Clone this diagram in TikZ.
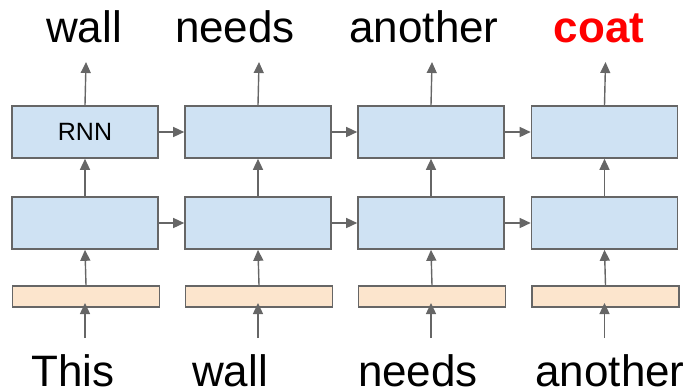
\documentclass[tikz,border=0pt]{standalone}
\usepackage{fontspec}
\setmainfont{Liberation Sans}
\usetikzlibrary{arrows.meta,calc}
\definecolor{boxblue}{HTML}{CFE2F3}
\definecolor{barpeach}{HTML}{FCE5CD}
\definecolor{edgegray}{HTML}{666666}
\definecolor{wordred}{HTML}{FF0000}
\begin{document}
\begin{tikzpicture}[x=1pt,y=-1pt,
  rnnbox/.style={draw=edgegray,fill=boxblue,line width=1.6pt,minimum width=146pt,minimum height=52pt,inner sep=0pt,anchor=center},
  embbar/.style={draw=edgegray,fill=barpeach,line width=1.6pt,minimum width=147pt,minimum height=21pt,inner sep=0pt,anchor=center},
  conn/.style={draw=edgegray,line width=1.4pt,-{Triangle[length=11pt,width=10pt]}},
  word/.style={font=\fontsize{44}{44}\selectfont,anchor=base,inner sep=0pt,text depth=0pt},
  redword/.style={word,font=\fontsize{44}{44}\selectfont\bfseries,text=wordred}]
\useasboundingbox (0,0) rectangle (688,391);
% boxes
\foreach \i/\cx in {1/85,2/258,3/431,4/604.5}{
  \node[rnnbox] (h\i) at (\cx,132) {};
  \node[rnnbox] (g\i) at (\cx,223) {};
  \node[embbar] (e\i) at (\cx+1,296.5) {};
  \coordinate (out\i) at (\cx+1,62);
  \coordinate (in\i) at (\cx,338);
  \coordinate (tip\i) at (\cx,303);
}
\node[font=\fontsize{25}{25}\selectfont] (rnnlabel) at (h1) {RNN};
% horizontal connectors
\foreach \a/\b in {1/2,2/3,3/4}{
  \draw[conn] (h\a.east) -- (h\b.west);
  \draw[conn] (g\a.east) -- (g\b.west);
}
% vertical connectors
\foreach \i in {1,2,3,4}{
  \draw[conn] (g\i.north) -- (h\i.south);
  \draw[conn] (e\i.north) -- (g\i.south);
  \draw[conn] (h\i.north) -- (out\i);
  \draw[conn] (in\i) -- (tip\i);
}
% top words
\node[word] (t1) at (84,42) {wall};
\node[word] (t2) at (235,42) {needs};
\node[word] (t3) at (424,42) {another};
\node[redword] (t4) at (599,42) {coat};
% bottom words
\node[word] (b1) at (73,386) {This};
\node[word] (b2) at (230,386) {wall};
\node[word] (b3) at (418,386) {needs};
\node[word] (b4) at (610,386) {another};
\end{tikzpicture}
\end{document}
